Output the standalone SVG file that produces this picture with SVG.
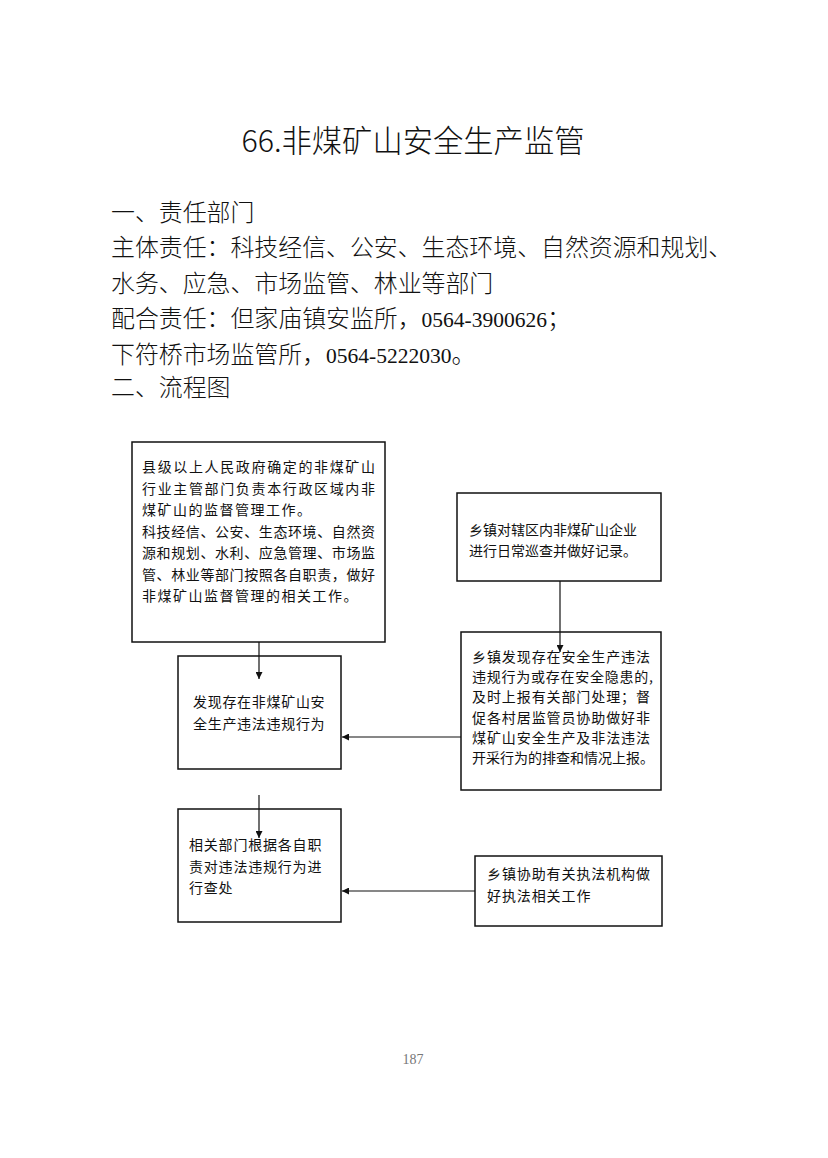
<svg xmlns="http://www.w3.org/2000/svg" width="828" height="1158" viewBox="0 0 828 1158">
<defs>
<style>
.h{font-family:"Noto Sans CJK SC","Noto Sans",sans-serif;font-size:23.9px;font-weight:300;fill:#111}
.num{font-family:"Liberation Serif","Noto Sans CJK SC",serif;font-size:21.5px;font-weight:400}
.t{font-family:"Noto Sans CJK SC","Noto Sans",sans-serif;font-size:14px;fill:#111}
.box{fill:#fff;stroke:#111;stroke-width:1.5}
.ln{stroke:#111;stroke-width:1.2;fill:none}
</style>
<marker id="ah" viewBox="0 0 10 10" refX="10" refY="5" markerWidth="7" markerHeight="7" markerUnits="userSpaceOnUse" orient="auto">
<path d="M0,0 L10,5 L0,10 z" fill="#111"/>
</marker>
</defs>
<rect width="828" height="1158" fill="#fff"/>
<text x="413" y="152" text-anchor="middle" font-family="Noto Sans CJK SC, Noto Sans, sans-serif" font-size="30.3" font-weight="300" fill="#111">66.非煤矿山安全生产监管</text>
<g id="header">
<text class="h" x="111" y="221">一、责任部门</text>
<text class="h" x="111" y="256">主体责任：科技经信、公安、生态环境、自然资源和规划、</text>
<text class="h" x="111" y="292">水务、应急、市场监管、林业等部门</text>
<text class="h" x="111" y="327">配合责任：但家庙镇安监所，<tspan class="num">0564-3900626</tspan>；</text>
<text class="h" x="111" y="363">下符桥市场监管所，<tspan class="num">0564-5222030</tspan>。</text>
<text class="h" x="111" y="396">二、流程图</text>
</g>
<g id="n1">
<rect class="box" x="132" y="442" width="253" height="200"/>
<text class="t" x="142" y="472" textLength="233" lengthAdjust="spacing">县级以上人民政府确定的非煤矿山</text>
<text class="t" x="142" y="494" textLength="233" lengthAdjust="spacing">行业主管部门负责本行政区域内非</text>
<text class="t" x="142" y="515" letter-spacing="1.5">煤矿山的监督管理工作。</text>
<text class="t" x="142" y="537" textLength="233" lengthAdjust="spacing">科技经信、公安、生态环境、自然资</text>
<text class="t" x="142" y="558" textLength="233" lengthAdjust="spacing">源和规划、水利、应急管理、市场监</text>
<text class="t" x="142" y="580" textLength="233" lengthAdjust="spacing">管、林业等部门按照各自职责，做好</text>
<text class="t" x="142" y="601" letter-spacing="1.5">非煤矿山监督管理的相关工作。</text>
</g>
<g id="n2">
<rect class="box" x="457" y="493" width="204" height="88"/>
<text class="t"><tspan x="469" y="535">乡镇对辖区内非煤矿山企业</tspan><tspan x="469" y="556">进行日常巡查并做好记录。</tspan></text>
</g>
<g id="n3">
<rect class="box" x="178" y="656" width="163" height="113"/>
<text class="t" letter-spacing="0.7"><tspan x="193" y="707">发现存在非煤矿山安</tspan><tspan x="193" y="729">全生产违法违规行为</tspan></text>
</g>
<g id="n4">
<rect class="box" x="461" y="632" width="200" height="158"/>
<text class="t" x="472" y="662" textLength="178" lengthAdjust="spacing">乡镇发现存在安全生产违法</text>
<text class="t" x="472" y="682" textLength="181" lengthAdjust="spacing">违规行为或存在安全隐患的,</text>
<text class="t" x="472" y="702" textLength="178" lengthAdjust="spacing">及时上报有关部门处理；督</text>
<text class="t" x="472" y="723" textLength="178" lengthAdjust="spacing">促各村居监管员协助做好非</text>
<text class="t" x="472" y="743" textLength="178" lengthAdjust="spacing">煤矿山安全生产及非法违法</text>
<text class="t" x="472" y="763" textLength="182" lengthAdjust="spacing">开采行为的排查和情况上报。</text>
</g>
<g id="n5">
<rect class="box" x="178" y="809" width="163" height="113"/>
<text class="t" letter-spacing="0.8"><tspan x="189" y="850">相关部门根据各自职</tspan><tspan x="189" y="872">责对违法违规行为进</tspan><tspan x="189" y="893">行查处</tspan></text>
</g>
<g id="n6">
<rect class="box" x="475" y="856" width="187" height="70"/>
<text class="t" letter-spacing="0.9"><tspan x="487" y="879">乡镇协助有关执法机构做</tspan><tspan x="487" y="901">好执法相关工作</tspan></text>
</g>
<g id="connectors">
<line class="ln" x1="259" y1="642" x2="259" y2="679" marker-end="url(#ah)"/>
<line class="ln" x1="560" y1="581" x2="560" y2="652" marker-end="url(#ah)"/>
<line class="ln" x1="461" y1="737" x2="342" y2="737" marker-end="url(#ah)"/>
<line class="ln" x1="259" y1="795" x2="259" y2="838" marker-end="url(#ah)"/>
<line class="ln" x1="475" y1="891" x2="342" y2="891" marker-end="url(#ah)"/>
</g>
<text x="413" y="1064" text-anchor="middle" font-family="Liberation Serif, serif" font-size="14" fill="#777">187</text>
</svg>
